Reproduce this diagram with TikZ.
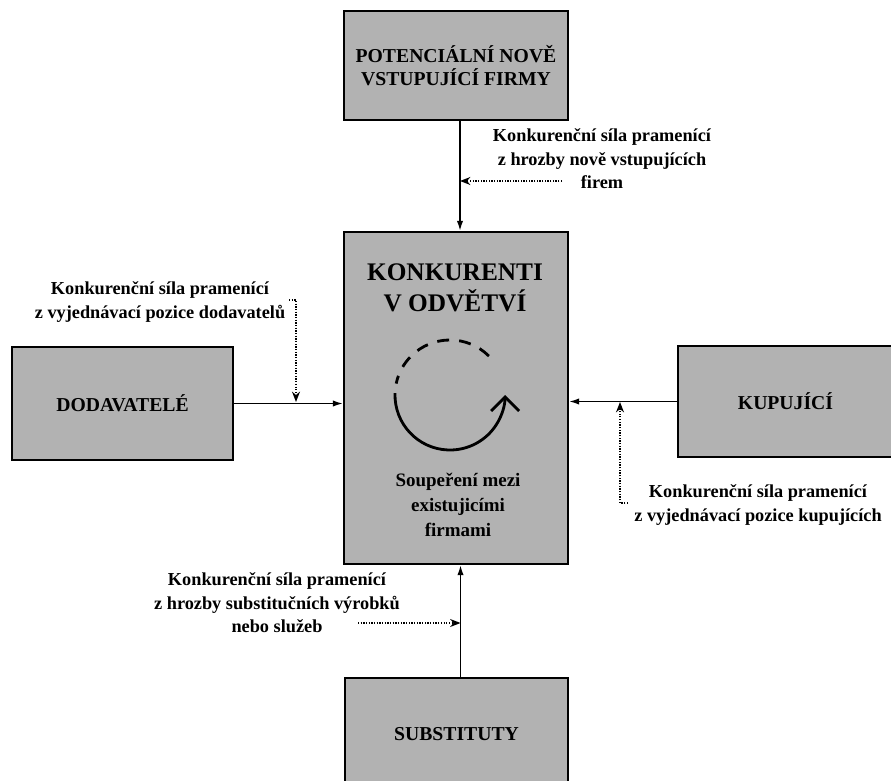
\documentclass[tikz,border=0pt]{standalone}
\usepackage{fontspec}
\setmainfont{Liberation Serif}
\usetikzlibrary{arrows.meta}

\begin{document}
\begin{tikzpicture}[x=0.025cm,y=-0.025cm,
    box/.style={draw,fill=black!30,line width=1.1pt,inner sep=0pt,align=center,
        font=\bfseries\fontsize{14}{16}\selectfont},
    popis/.style={inner sep=0pt,align=center,font=\bfseries\fontsize{13}{16.7}\selectfont},
    sila/.style={line width=1.3pt,-{Latex[length=2.6mm,width=1.6mm]}},
    tecky/.style={densely dotted,line width=0.9pt,-{Stealth[length=2.6mm,width=2mm]}}]
    \useasboundingbox (0,0) rectangle (891,780);
    % the five boxes
    \node[box,minimum width=5.6cm,minimum height=2.725cm] (potencialni) at (456,65.5) {POTENCIÁLNÍ NOVĚ\\VSTUPUJÍCÍ FIRMY};
    \node[box,minimum width=5.6cm,minimum height=8.3cm] (konkurenti) at (456,398) {};
    \node[box,minimum width=5.525cm,minimum height=2.825cm] (dodavatele) at (122.5,403.5) {DODAVATELÉ};
    \node[box,minimum width=5.375cm,minimum height=2.775cm] (kupujici) at (785.5,401.5) {KUPUJÍCÍ};
    \node[box,minimum width=5.575cm,minimum height=2.8cm] (substituty) at (456.5,734) {SUBSTITUTY};
    % inside the middle box
    \node[popis,font=\bfseries\fontsize{18}{22}\selectfont] (nadpis) at (455,288) {KONKURENTI\\V ODVĚTVÍ};
    \node[popis,font=\bfseries\fontsize{13.5}{17.8}\selectfont] (souperi) at (458,505) {Soupeření mezi\\existujicími\\firmami};
    \coordinate (stred) at (450,395);
    \draw[line width=2pt,-{Straight Barb[length=3.5mm,width=7mm]}] ([shift={(178:1.375cm)}]stred) arc[start angle=178,end angle=360,radius=1.375cm];
    \draw[line width=2pt,dash pattern=on 3mm off 2.5mm] ([shift={(45:1.375cm)}]stred) arc[start angle=45,end angle=168,radius=1.375cm];
    % forces
    \coordinate (osa1) at ([xshift=1mm]potencialni.south);
    \coordinate (osa2) at ([xshift=1mm]substituty.north);
    \draw[sila] (osa1) -- (osa1 |- konkurenti.north);
    \draw[sila] (dodavatele.east) -- (dodavatele.east -| konkurenti.west);
    \draw[sila] (kupujici.west) -- (kupujici.west -| konkurenti.east);
    \draw[sila] (osa2) -- (osa2 |- konkurenti.south);
    % labels
    \node[popis] (hrozba) at (602,159) {Konkurenční síla pramenící\\z hrozby nově vstupujících\\firem};
    \node[popis] (dodpozice) at (160,302) {Konkurenční síla pramenící\\z vyjednávací pozice dodavatelů};
    \node[popis] (kuppozice) at (758,505) {Konkurenční síla pramenící\\z vyjednávací pozice kupujících};
    \node[popis] (substit) at (277,603) {Konkurenční síla pramenící\\z hrozby substitučních výrobků\\nebo služeb};
    % dotted arrows
    \coordinate (t1) at (562,181);
    \coordinate (t2) at (289,300);
    \coordinate (t2e) at (296,402);
    \coordinate (t3) at (628,503);
    \coordinate (t3e) at (620,402);
    \coordinate (t4) at (358,623);
    \draw[tecky] (t1) -- (t1 -| osa1);
    \draw[tecky] (t2) -| (t2e);
    \draw[tecky] (t3) -| (t3e);
    \draw[tecky] (t4) -- (t4 -| osa2);
\end{tikzpicture}
\end{document}
